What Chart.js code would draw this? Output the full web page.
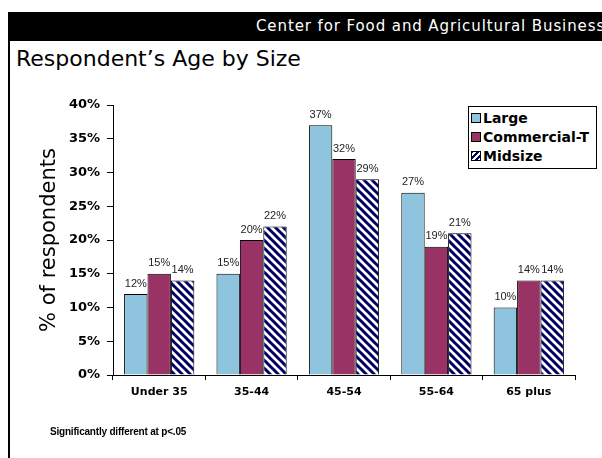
<!DOCTYPE html>
<html>
<head>
<meta charset="utf-8">
<script src="https://cdn.jsdelivr.net/npm/chart.js@4.4.1/dist/chart.umd.min.js"></script>
<style>
    html, body { margin: 0; padding: 0; background: #fff; }
    #wrap { position: relative; width: 602px; height: 458px; overflow: hidden; }
    #header {
        position: absolute; left: 8px; top: 12px; right: 0; height: 29px;
        background: #000; color: #fff;
        font: 15px "DejaVu Sans", sans-serif; letter-spacing: 0.9px;
        white-space: nowrap; overflow: hidden;
    }
    #header span { position: absolute; left: 248px; top: 5px; }
    #edge { position: absolute; left: 8px; top: 41px; width: 2px; bottom: 0; background: #000; }
    #title {
        position: absolute; left: 16px; top: 46px;
        font: 22px "DejaVu Sans", sans-serif; color: #000;
    }
    #note {
        position: absolute; left: 50px; top: 426px;
        font: bold 10px "Liberation Sans", sans-serif; letter-spacing: -0.2px; color: #000;
    }
    #legend {
        position: absolute; left: 468px; top: 106px; width: 129px; height: 63px;
        border: 1px solid #000; background: #fff; box-sizing: border-box;
        font: bold 14px "DejaVu Sans", sans-serif; color: #000;
    }
    #legend div { position: absolute; left: 2px; height: 19px; line-height: 19px; white-space: nowrap; }
    #legend i {
        display: inline-block; width: 8px; height: 8px; border: 1px solid #000;
        margin-right: 2px; vertical-align: 0px;
    }
    #chart { position: absolute; left: 0; top: 0; }
</style>
</head>
<body>
<div id="wrap">
    <div id="header"><span>Center for Food and Agricultural Business</span></div>
    <div id="edge"></div>
    <div id="title">Respondent’s Age by Size</div>
    <canvas id="chart" width="602" height="458"></canvas>
    <div id="legend"></div>
    <div id="note">Significantly different at p&lt;.05</div>
</div>
<script>
// age groups and share of respondents (%) per operation size
const ageGroups = ['Under 35', '35-44', '45-54', '55-64', '65 plus'];
const large = [12, 15, 37, 27, 10];
const commercialT = [15, 20, 32, 19, 14];
const midsize = [14, 22, 29, 21, 14];
const yTicks = [0, 5, 10, 15, 20, 25, 30, 35, 40];

const LIGHT_BLUE = '#8fc4de';
const MAROON = '#993366';
const NAVY = '#000066';

// diagonal navy stripes on white, falling left to right
function stripePattern() {
    const s = 8;
    const c = document.createElement('canvas');
    c.width = s; c.height = s;
    const g = c.getContext('2d');
    g.fillStyle = '#fff';
    g.fillRect(0, 0, s, s);
    g.strokeStyle = NAVY;
    g.lineWidth = 3;
    g.beginPath();
    for (let k = -1; k <= 1; k++) {
        g.moveTo(k * s - 1, -1);
        g.lineTo(k * s + s + 1, s + 1);
    }
    g.stroke();
    return document.getElementById('chart').getContext('2d').createPattern(c, 'repeat');
}

const stripes = stripePattern();

const series = [
    { label: 'Large', data: large, fill: LIGHT_BLUE, swatch: LIGHT_BLUE },
    { label: 'Commercial-T', data: commercialT, fill: MAROON, swatch: MAROON },
    { label: 'Midsize', data: midsize, fill: stripes,
      swatch: 'repeating-linear-gradient(-45deg, #fff 0 2px, ' + NAVY + ' 2px 4px)' }
];

// value labels above each bar
const barLabels = {
    id: 'barLabels',
    afterDatasetsDraw(chart) {
        const ctx = chart.ctx;
        ctx.save();
        ctx.font = '11px "Liberation Sans", Arial, sans-serif';
        ctx.fillStyle = '#222';
        ctx.textAlign = 'center';
        ctx.textBaseline = 'bottom';
        chart.data.datasets.forEach((ds, i) => {
            chart.getDatasetMeta(i).data.forEach((bar, j) => {
                ctx.fillText(ds.data[j] + '%', bar.x, bar.y - 5);
            });
        });
        ctx.restore();
    }
};

new Chart(document.getElementById('chart'), {
    type: 'bar',
    data: {
        labels: ageGroups,
        datasets: series.map(s => ({
            label: s.label,
            data: s.data,
            backgroundColor: s.fill,
            borderColor: '#000',
            borderWidth: 1,
            borderSkipped: 'bottom'
        }))
    },
    options: {
        responsive: false,
        animation: false,
        events: [],
        layout: { padding: { top: 105, right: 27, left: 0, bottom: 0 } },
        categoryPercentage: 0.76,
        barPercentage: 1.0,
        plugins: {
            legend: { display: false },
            tooltip: { enabled: false }
        },
        scales: {
            x: {
                grid: { offset: true, drawOnChartArea: false, drawTicks: true, tickLength: 5, color: '#000' },
                border: { color: '#000', width: 1 },
                ticks: {
                    color: '#000', padding: 6,
                    font: { family: '"DejaVu Sans", sans-serif', size: 11, weight: 'bold' }
                },
                afterFit(scale) { scale.height = 83; }
            },
            y: {
                min: 0, max: 40,
                afterBuildTicks(scale) { scale.ticks = yTicks.map(v => ({ value: v })); },
                grid: { drawOnChartArea: false, drawTicks: true, tickLength: 6, color: '#000' },
                border: { color: '#000', width: 1 },
                ticks: {
                    color: '#000', padding: 7,
                    font: { family: '"DejaVu Sans", sans-serif', size: 13, weight: 'bold' },
                    callback: v => v + '%'
                },
                title: {
                    display: true, text: '% of respondents', color: '#000',
                    padding: { top: 37, bottom: 0 },
                    font: { family: '"DejaVu Sans", sans-serif', size: 21 }
                },
                afterFit(scale) { scale.width = 113; }
            }
        }
    },
    plugins: [barLabels]
});

// legend box, built from the same series list
const legendEl = document.getElementById('legend');
series.forEach((s, i) => {
    const row = document.createElement('div');
    row.style.top = (2 + i * 19) + 'px';
    row.innerHTML = `<i style="background:${s.swatch}"></i>${s.label}`;
    legendEl.appendChild(row);
});
</script>
</body>
</html>
